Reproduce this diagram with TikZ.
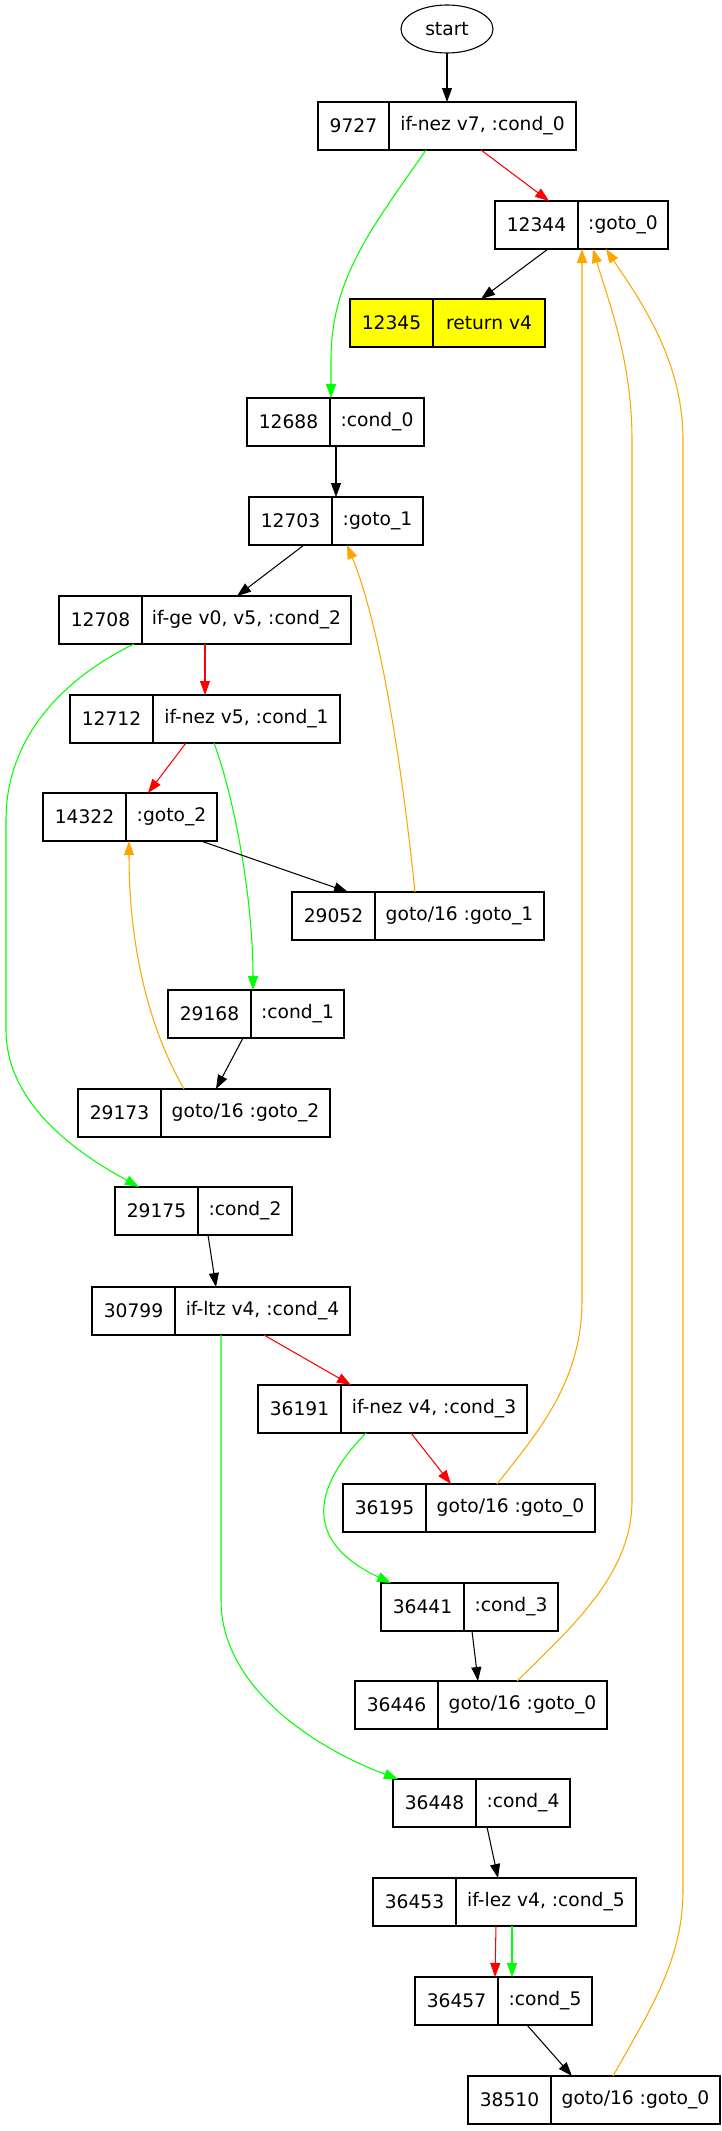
\documentclass[tikz,border=0pt]{standalone}
\usepackage{fontspec}
\setmainfont{DejaVu Sans}
\usetikzlibrary{arrows.meta,shapes.geometric}
\definecolor{gvred}{HTML}{FF0000}
\definecolor{gvgreen}{HTML}{00FF00}
\definecolor{gvorange}{HTML}{FFA500}
\definecolor{gvyellow}{HTML}{FFFF00}
\tikzset{
  cell/.style={draw, line width=1.1pt, minimum height=48pt, inner sep=0pt, outer sep=0pt},
  edge/.style={line width=1.05pt, -{Triangle[length=14pt,width=10pt]}},
  blk/.style={edge, black},
  rd/.style={edge, gvred},
  gr/.style={edge, gvgreen},
  og/.style={edge, gvorange},
}
% #1 extra style, #2 name, #3 left x, #4 top y, #5 w1, #6 w2, #7 number, #8 label
\newcommand\rec[8][]{%
  \node[cell,#1,minimum width=#5pt,anchor=north west] (n#2) at (#3,#4) {#7};
  \node[cell,#1,minimum width=#6pt,anchor=north west] (l#2) at (n#2.north east) {#8};
}
\begin{document}
\begin{tikzpicture}[x=1pt,y=-1pt,font=\fontsize{18.67}{22}\selectfont]
\useasboundingbox (0,0) rectangle (721,2131);

\node[draw, ellipse, line width=1.1pt, minimum width=92pt, minimum height=48pt, inner sep=0pt, outer sep=0pt] (start) at (447,29) {start};

\rec{9727}{318}{102}{71}{187}{9727}{if-nez v7, :cond\_0}
\rec{12344}{495}{201}{83}{90}{12344}{:goto\_0}
\rec[fill=gvyellow]{12345}{350}{299}{83}{112}{12345}{return v4}
\rec{12688}{247}{398}{83}{94}{12688}{:cond\_0}
\rec{12703}{249}{497}{83}{91}{12703}{:goto\_1}
\rec{12708}{59}{596}{83}{209}{12708}{if-ge v0, v5, :cond\_2}
\rec{12712}{70}{695}{83}{187}{12712}{if-nez v5, :cond\_1}
\rec{14322}{43}{793}{83}{91}{14322}{:goto\_2}
\rec{29052}{292}{892}{83}{169}{29052}{goto/16 :goto\_1}
\rec{29168}{168}{990}{83}{93}{29168}{:cond\_1}
\rec{29173}{78}{1089}{83}{169}{29173}{goto/16 :goto\_2}
\rec{29175}{115}{1187}{83}{94}{29175}{:cond\_2}
\rec{30799}{92}{1287}{83}{175}{30799}{if-ltz v4, :cond\_4}
\rec{36191}{258}{1385}{83}{186}{36191}{if-nez v4, :cond\_3}
\rec{36195}{343}{1484}{83}{169}{36195}{goto/16 :goto\_0}
\rec{36441}{381}{1583}{83}{94}{36441}{:cond\_3}
\rec{36446}{355}{1681}{83}{169}{36446}{goto/16 :goto\_0}
\rec{36448}{393}{1779}{83}{94}{36448}{:cond\_4}
\rec{36453}{373}{1878}{83}{180}{36453}{if-lez v4, :cond\_5}
\rec{36457}{415}{1977}{83}{94}{36457}{:cond\_5}
\rec{38510}{468}{2076}{83}{169}{38510}{goto/16 :goto\_0}

% edges
\draw[blk] (start.south) -- ([xshift=129]n9727.north west);
\draw[rd] ([xshift=163]n9727.south west) -- ([xshift=54]n12344.north west);
\draw[gr] ([xshift=108]n9727.south west) .. controls (370,230) and (331,280) .. (331,360) -- ([xshift=84]n12688.north west);
\draw[blk] ([xshift=53]n12344.south west) -- ([xshift=131]n12345.north west);
\draw[blk] ([xshift=89]n12688.south west) -- ([xshift=87]n12703.north west);
\draw[blk] ([xshift=55]n12703.south west) -- ([xshift=178]n12708.north west);
\draw[rd] ([xshift=146]n12708.south west) -- ([xshift=135]n12712.north west);
\draw[gr] ([xshift=75]n12708.south west) .. controls (60,680) and (6,740) .. (6,820) -- (6,1030) .. controls (6,1110) and (90,1160) .. ([xshift=24]n29175.north west);
\draw[rd] ([xshift=116]n12712.south west) -- ([xshift=105]n14322.north west);
\draw[gr] ([xshift=144]n12712.south west) .. controls (235,800) and (253,900) .. ([xshift=85]n29168.north west);
\draw[blk] ([xshift=158]n14322.south west) -- ([xshift=56]n29052.north west);
\draw[og] ([xshift=123]n29052.north west) .. controls (395,700) and (370,600) .. ([xshift=98]n12703.south west);
\draw[blk] ([xshift=75]n29168.south west) -- ([xshift=138]n29173.north west);
\draw[og] ([xshift=106]n29173.north west) .. controls (150,1030) and (129,950) .. ([xshift=86]n14322.south west);
\draw[blk] ([xshift=93]n29175.south west) -- ([xshift=124]n30799.north west);
\draw[rd] ([xshift=172]n30799.south west) -- ([xshift=93]n36191.north west);
\draw[gr] ([xshift=129]n30799.south west) -- (221,1600) .. controls (221,1690) and (320,1750) .. ([xshift=5]n36448.north west);
\draw[rd] ([xshift=153]n36191.south west) -- ([xshift=108]n36195.north west);
\draw[gr] ([xshift=108]n36191.south west) .. controls (315,1485) and (300,1540) .. ([xshift=10]n36441.north west);
\draw[og] ([xshift=154]n36195.north west) .. controls (540,1430) and (582,1380) .. (582,1300) -- ([xshift=87]n12344.south west);
\draw[blk] ([xshift=91]n36441.south west) -- ([xshift=123]n36446.north west);
\draw[og] ([xshift=162]n36446.north west) .. controls (580,1620) and (632,1570) .. (632,1500) -- (632,440) .. controls (632,360) and (608,300) .. ([xshift=98]n12344.south west);
\draw[blk] ([xshift=94]n36448.south west) -- ([xshift=125]n36453.north west);
\draw[rd] ([xshift=123]n36453.south west) -- ([xshift=80]n36457.north west);
\draw[gr] ([xshift=139]n36453.south west) -- ([xshift=97]n36457.north west);
\draw[blk] ([xshift=112]n36457.south west) -- ([xshift=104]n38510.north west);
\draw[og] ([xshift=145]n38510.north west) .. controls (650,2010) and (683,1960) .. (683,1890) -- (683,440) .. controls (683,360) and (640,300) .. ([xshift=111]n12344.south west);
\end{tikzpicture}
\end{document}
